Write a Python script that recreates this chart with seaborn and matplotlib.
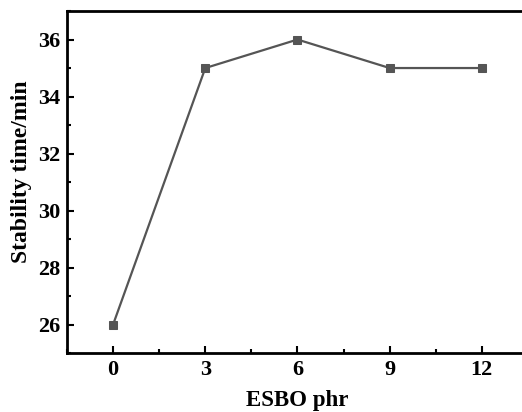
import matplotlib

matplotlib.use("Agg")
import matplotlib.pyplot as plt
import pandas as pd
import seaborn as sns
from matplotlib.ticker import MultipleLocator

# data
esbo_phr = [0, 3, 6, 9, 12]
stability_min = [26, 35, 36, 35, 35]
x_ticks = [0, 3, 6, 9, 12]
y_ticks = [26, 28, 30, 32, 34, 36]

df = pd.DataFrame({"ESBO phr": esbo_phr, "Stability time/min": stability_min})

sns.set_style("ticks")
plt.rcParams["font.family"] = ["Liberation Serif", "DejaVu Serif"]
plt.rcParams["font.weight"] = "bold"
for key in ["text.color", "axes.labelcolor", "xtick.color", "ytick.color", "axes.edgecolor"]:
    plt.rcParams[key] = "black"

fig = plt.figure(figsize=(5.22, 4.12), dpi=100)
ax = fig.add_axes([0.1284, 0.1432, 0.883, 0.830])

sns.lineplot(
    data=df, x="ESBO phr", y="Stability time/min",
    color="#555555", linewidth=1.6, marker="s", markersize=5.5,
    markeredgecolor="#555555", ax=ax,
)

ax.set_xlim(-1.5, 13.5)
ax.set_ylim(25, 37)
ax.set_xticks(x_ticks)
ax.set_yticks(y_ticks)
ax.xaxis.set_minor_locator(MultipleLocator(1.5))
ax.yaxis.set_minor_locator(MultipleLocator(1))
ax.tick_params(which="major", direction="in", length=5, width=1.5, labelsize=16, pad=5)
ax.tick_params(which="minor", direction="in", length=3, width=1.5)
ax.tick_params(top=False, right=False, which="both")
for lab in ax.get_xticklabels() + ax.get_yticklabels():
    lab.set_fontweight("bold")
for sp in ax.spines.values():
    sp.set_linewidth(2)
ax.spines["right"].set_visible(False)

ax.set_xlabel("ESBO phr", fontsize=16.5, fontweight="bold", labelpad=7)
ax.set_ylabel("Stability time/min", fontsize=17, fontweight="bold", labelpad=3)
# the label sits a little above the middle of the axis in the reference
ax.yaxis.set_label_coords(-0.076, 0.53)

fig.savefig("out.png", dpi=100)
plt.close(fig)
